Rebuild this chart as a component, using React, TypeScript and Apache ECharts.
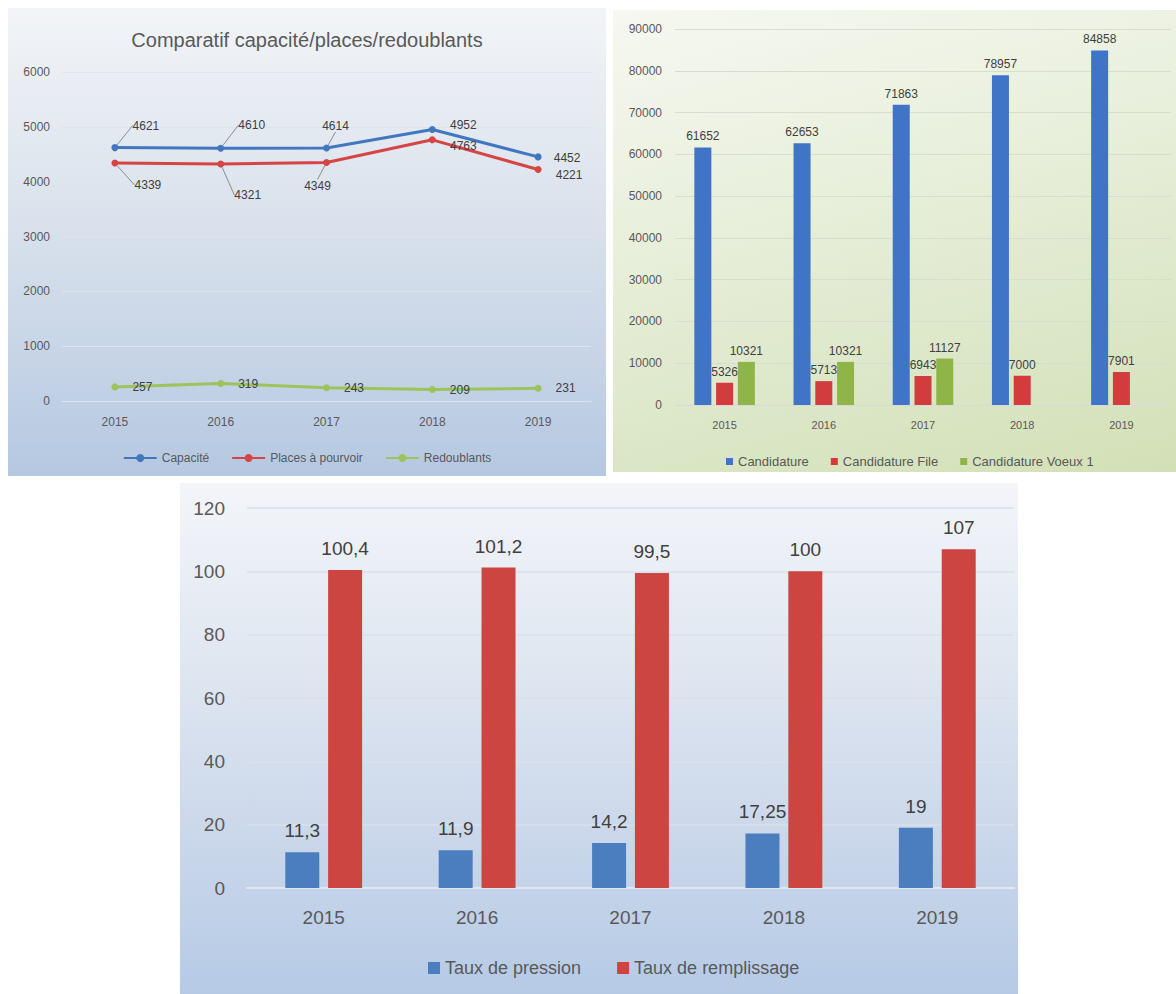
import React, { useEffect, useRef } from "react";
import * as echarts from "echarts";

// ---------- DATA ----------
const years = ["2015", "2016", "2017", "2018", "2019"];

const capacite = [4621, 4610, 4614, 4952, 4452];
const placesAPourvoir = [4339, 4321, 4349, 4763, 4221];
const redoublants = [257, 319, 243, 209, 231];

const candidature = [61652, 62653, 71863, 78957, 84858];
const candidatureFile = [5326, 5713, 6943, 7000, 7901];
const candidatureVoeux1 = [10321, 10321, 11127, null, null];

const tauxPression = [11.3, 11.9, 14.2, 17.25, 19];
const tauxRemplissage = [100.4, 101.2, 99.5, 100, 107];

// ---------- STYLE CONSTANTS ----------
const FONT = "'Liberation Sans', Arial, sans-serif";
const AXIS_TXT = "#595959";
const LABEL_TXT = "#404040";

// label offsets (styling only) for the line chart labels
const capOffsets = [[31, -22], [31, -23], [9, -22], [31, -4], [29, 1]];
const capLeader = [true, true, true, false, false];
const placesOffsets = [[33, 22], [27, 31], [-9, 23], [31, 6], [31, 5]];
const placesLeader = [true, true, true, false, false];

const comma = (v: number) => String(v).replace(".", ",");
const plain = (v: number) => String(v);

// ---------- OPTIONS ----------
const lineOption: any = {
  animation: false,
  textStyle: { fontFamily: FONT },
  title: {
    text: "Comparatif capacité/places/redoublants",
    left: "center",
    top: 17,
    textStyle: { fontFamily: FONT, fontSize: 20, fontWeight: "normal", color: AXIS_TXT },
  },
  grid: { left: 54, right: 15, top: 64, bottom: 75 },
  legend: {
    top: 439,
    left: "center",
    itemWidth: 33,
    itemHeight: 10,
    itemGap: 22,
    textStyle: { fontFamily: FONT, fontSize: 12, color: AXIS_TXT },
    data: ["Capacité", "Places à pourvoir", "Redoublants"],
  },
  xAxis: {
    type: "category",
    data: years,
    boundaryGap: true,
    axisLine: { lineStyle: { color: "#dfe4ea" } },
    axisTick: { show: false },
    axisLabel: { fontFamily: FONT, fontSize: 12, color: AXIS_TXT, margin: 15 },
  },
  yAxis: {
    type: "value",
    min: 0,
    max: 6000,
    interval: 1000,
    axisLabel: { fontFamily: FONT, fontSize: 12, color: AXIS_TXT, margin: 12, formatter: plain },
    splitLine: { lineStyle: { color: "#dfe4ea" } },
  },
  series: [
    {
      name: "Capacité",
      type: "line",
      data: capacite.map((v, i) => ({ value: v, labelLine: { show: capLeader[i] } })),
      symbol: "circle",
      symbolSize: 7,
      itemStyle: { color: "#4277c0" },
      lineStyle: { width: 3, color: "#4277c0" },
      label: { show: true, position: "inside", fontFamily: FONT, fontSize: 12, color: LABEL_TXT },
      labelLine: { show: true, lineStyle: { color: "#8c8c8c", width: 1 } },
      labelLayout: (p: any) => ({ dx: capOffsets[p.dataIndex][0], dy: capOffsets[p.dataIndex][1] }),
    },
    {
      name: "Places à pourvoir",
      type: "line",
      data: placesAPourvoir.map((v, i) => ({ value: v, labelLine: { show: placesLeader[i] } })),
      symbol: "circle",
      symbolSize: 7,
      itemStyle: { color: "#d64545" },
      lineStyle: { width: 3, color: "#d64545" },
      label: { show: true, position: "inside", fontFamily: FONT, fontSize: 12, color: LABEL_TXT },
      labelLine: { show: true, lineStyle: { color: "#8c8c8c", width: 1 } },
      labelLayout: (p: any) => ({ dx: placesOffsets[p.dataIndex][0], dy: placesOffsets[p.dataIndex][1] }),
    },
    {
      name: "Redoublants",
      type: "line",
      data: redoublants,
      symbol: "circle",
      symbolSize: 7,
      itemStyle: { color: "#9cc45a" },
      lineStyle: { width: 3, color: "#9cc45a" },
      label: { show: true, position: "right", distance: 14, fontFamily: FONT, fontSize: 12, color: LABEL_TXT },
    },
  ],
};

const candOption: any = {
  animation: false,
  textStyle: { fontFamily: FONT },
  grid: { left: 62, right: 5, top: 19, bottom: 67 },
  legend: {
    top: 440,
    left: 108,
    icon: "rect",
    itemWidth: 7,
    itemHeight: 7,
    itemGap: 22,
    textStyle: { fontFamily: FONT, fontSize: 13, color: AXIS_TXT },
    data: ["Candidature", "Candidature File", "Candidature Voeux 1"],
  },
  xAxis: {
    type: "category",
    data: years,
    axisLine: { lineStyle: { color: "#d9d9d9" } },
    axisTick: { show: false },
    axisLabel: { fontFamily: FONT, fontSize: 11, color: AXIS_TXT, margin: 14 },
  },
  yAxis: {
    type: "value",
    min: 0,
    max: 90000,
    interval: 10000,
    axisLabel: { fontFamily: FONT, fontSize: 12, color: AXIS_TXT, margin: 13, formatter: plain },
    splitLine: { lineStyle: { color: "#d9ddd0" } },
  },
  series: [
    {
      name: "Candidature",
      type: "bar",
      data: candidature,
      barWidth: 17,
      barGap: "28%",
      itemStyle: { color: "#3f74c6" },
      label: { show: true, position: "top", distance: 5, fontFamily: FONT, fontSize: 12, color: LABEL_TXT },
    },
    {
      name: "Candidature File",
      type: "bar",
      data: candidatureFile,
      barWidth: 17,
      barGap: "28%",
      itemStyle: { color: "#d23c3c" },
      label: { show: true, position: "top", distance: 5, fontFamily: FONT, fontSize: 12, color: LABEL_TXT },
    },
    {
      name: "Candidature Voeux 1",
      type: "bar",
      data: candidatureVoeux1,
      barWidth: 17,
      barGap: "28%",
      itemStyle: { color: "#8fb548" },
      label: { show: true, position: "top", distance: 5, fontFamily: FONT, fontSize: 12, color: LABEL_TXT },
    },
  ],
};

const tauxOption: any = {
  animation: false,
  textStyle: { fontFamily: FONT },
  grid: { left: 67, right: 4, top: 25, bottom: 106 },
  legend: {
    top: 471,
    left: 243,
    icon: "rect",
    itemWidth: 12,
    itemHeight: 12,
    itemGap: 36,
    textStyle: { fontFamily: FONT, fontSize: 18, color: AXIS_TXT },
    data: ["Taux de pression", "Taux de remplissage"],
  },
  xAxis: {
    type: "category",
    data: years,
    axisLine: { lineStyle: { color: "#e3e8ef", width: 2 } },
    axisTick: { show: false },
    axisLabel: { fontFamily: FONT, fontSize: 19, color: AXIS_TXT, margin: 20 },
  },
  yAxis: {
    type: "value",
    min: 0,
    max: 120,
    interval: 20,
    axisLabel: { fontFamily: FONT, fontSize: 19, color: AXIS_TXT, margin: 22, formatter: plain },
    splitLine: { lineStyle: { color: "#d9e0ea", width: 1.5 } },
  },
  series: [
    {
      name: "Taux de pression",
      type: "bar",
      data: tauxPression,
      barWidth: 34,
      barGap: "26%",
      itemStyle: { color: "#4a7ebf" },
      label: {
        show: true,
        position: "top",
        distance: 12,
        fontFamily: FONT,
        fontSize: 19,
        color: LABEL_TXT,
        formatter: (p: any) => comma(p.value),
      },
    },
    {
      name: "Taux de remplissage",
      type: "bar",
      data: tauxRemplissage,
      barWidth: 34,
      barGap: "26%",
      itemStyle: { color: "#cc4541" },
      label: {
        show: true,
        position: "top",
        distance: 12,
        fontFamily: FONT,
        fontSize: 19,
        color: LABEL_TXT,
        formatter: (p: any) => comma(p.value),
      },
    },
  ],
};

// ---------- COMPONENTS ----------
function Chart({ option, width, height }: { option: any; width: number; height: number }) {
  const ref = useRef<HTMLDivElement>(null);
  useEffect(() => {
    if (!ref.current) return;
    const chart = echarts.init(ref.current, undefined, { renderer: "svg" });
    chart.setOption(option);
    return () => chart.dispose();
  }, [option]);
  return <div ref={ref} style={{ width, height }} />;
}

function Panel({
  left,
  top,
  width,
  height,
  background,
  option,
}: {
  left: number;
  top: number;
  width: number;
  height: number;
  background: string;
  option: any;
}) {
  return (
    <div
      style={{
        position: "absolute",
        left,
        top,
        width,
        height,
        background,
        boxSizing: "border-box",
      }}
    >
      <Chart option={option} width={width} height={height} />
    </div>
  );
}

export default function App() {
  return (
    <div
      style={{
        position: "absolute",
        left: 0,
        top: 0,
        width: 1176,
        height: 994,
        background: "#ffffff",
        overflow: "hidden",
      }}
    >
      <Panel
        left={8}
        top={8}
        width={598}
        height={468}
        background="linear-gradient(to bottom, #f2f4f7 0%, #e2e8f0 30%, #cdd9e8 65%, #b5c8e1 100%)"
        option={lineOption}
      />
      <Panel
        left={613}
        top={10}
        width={563}
        height={462}
        background="linear-gradient(165deg, #f6f8f1 0%, #e8efdb 40%, #dbe6c6 75%, #d3e0b6 100%)"
        option={candOption}
      />
      <Panel
        left={180}
        top={483}
        width={838}
        height={511}
        background="linear-gradient(to bottom, #f3f5f9 0%, #e0e7f1 35%, #cad7ea 70%, #b6cae6 100%)"
        option={tauxOption}
      />
    </div>
  );
}
